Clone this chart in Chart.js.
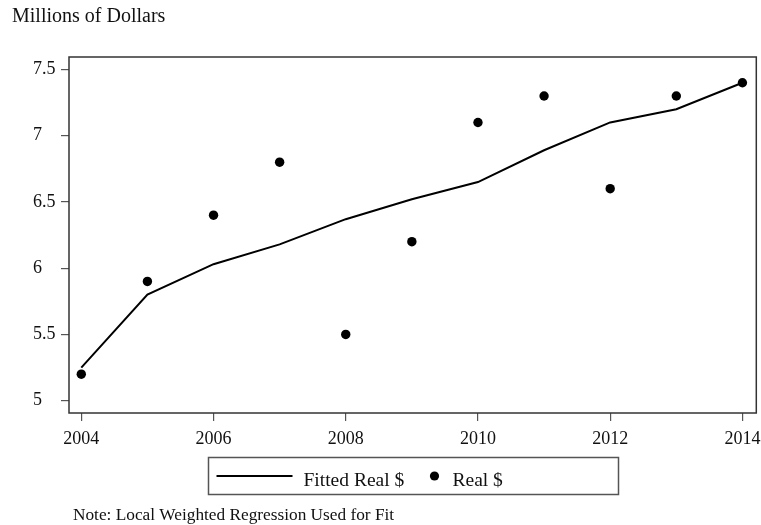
<!DOCTYPE html>
<html>
<head>
<meta charset="utf-8">
<script src="https://cdn.jsdelivr.net/npm/chart.js@4/dist/chart.umd.min.js"></script>
<style>
  html, body { margin: 0; padding: 0; background: #fff; }
  #wrap { width: 761px; height: 525px; position: relative; }
</style>
</head>
<body>
<div id="wrap"><canvas id="grafica"></canvas></div>
<script>
// datos
const years = [2004, 2005, 2006, 2007, 2008, 2009, 2010, 2011, 2012, 2013, 2014];
const fittedReal = [5.25, 5.80, 6.03, 6.18, 6.37, 6.52, 6.65, 6.89, 7.10, 7.20, 7.40];
const realDollars = [5.2, 5.9, 6.4, 6.8, 5.5, 6.2, 7.1, 7.3, 6.6, 7.3, 7.4];
const xTicks = [2004, 2006, 2008, 2010, 2012, 2014];
const yTicks = [5, 5.5, 6, 6.5, 7, 7.5];
const seriesNames = ['Fitted Real $', 'Real $'];
const yTitle = 'Millions of Dollars';
const note = 'Note: Local Weighted Regression Used for Fit';

const fuente = '"Liberation Serif", "Times New Roman", serif';

// marco, titulo, leyenda y nota
const extras = {
    id: 'extras',
    afterDraw(chart) {
        const ctx = chart.ctx;
        const a = chart.chartArea;
        ctx.save();

        // marco del area
        ctx.strokeStyle = '#333';
        ctx.lineWidth = 1.5;
        ctx.strokeRect(a.left, a.top, a.right - a.left, a.bottom - a.top);

        ctx.fillStyle = '#111';
        ctx.textBaseline = 'alphabetic';
        ctx.textAlign = 'left';
        ctx.font = '20px ' + fuente;
        ctx.fillText(yTitle, 12, 22);

        // leyenda
        const cx = (a.left + a.right) / 2;
        const boxW = 410, boxH = 37, boxTop = 457.5;
        const boxLeft = Math.round(cx - boxW / 2) + 0.5;
        ctx.strokeStyle = '#555';
        ctx.lineWidth = 1.5;
        ctx.strokeRect(boxLeft, boxTop, boxW, boxH);

        const midY = 476;
        ctx.strokeStyle = '#000';
        ctx.lineWidth = 2;
        ctx.beginPath();
        ctx.moveTo(boxLeft + 8, midY);
        ctx.lineTo(boxLeft + 84, midY);
        ctx.stroke();

        ctx.font = '19.5px ' + fuente;
        const ds = chart.data.datasets;
        ctx.fillText(ds[0].label, boxLeft + 95, 485.5);

        ctx.fillStyle = '#000';
        ctx.beginPath();
        ctx.arc(boxLeft + 226, midY, 4.6, 0, Math.PI * 2);
        ctx.fill();
        ctx.fillStyle = '#111';
        ctx.fillText(ds[1].label, boxLeft + 244, 485.5);

        // nota
        ctx.font = '17.3px ' + fuente;
        ctx.fillText(note, 73, 520);
        ctx.restore();
    }
};

const ctx = document.getElementById('grafica').getContext('2d');

new Chart(ctx, {
    data: {
        datasets: [{
            type: 'line',
            label: seriesNames[0],
            data: years.map((y, i) => ({ x: y, y: fittedReal[i] })),
            borderColor: '#000',
            borderWidth: 2,
            pointRadius: 0,
            tension: 0,
            fill: false
        }, {
            type: 'scatter',
            label: seriesNames[1],
            data: years.map((y, i) => ({ x: y, y: realDollars[i] })),
            backgroundColor: '#000',
            borderColor: '#000',
            pointRadius: 4.7,
            pointBorderWidth: 0
        }]
    },
    options: {
        responsive: true,
        maintainAspectRatio: false,
        animation: false,
        layout: { padding: { top: 57, right: 4, left: 33, bottom: 0 } },
        plugins: {
            legend: { display: false },
            tooltip: { enabled: false },
            title: { display: false }
        },
        scales: {
            x: {
                type: 'linear',
                min: 2003.814,
                max: 2014.21,
                afterBuildTicks: s => { s.ticks = xTicks.map(v => ({ value: v })); },
                afterFit: s => { s.height = 112; s.paddingLeft = 0; s.paddingRight = 0; },
                grid: { drawOnChartArea: false, drawTicks: true, tickLength: 8, color: '#555', lineWidth: 1.2 },
                border: { display: false },
                ticks: {
                    color: '#111',
                    font: { family: fuente, size: 18 },
                    padding: 7,
                    maxRotation: 0,
                    callback: v => String(v)
                }
            },
            y: {
                type: 'linear',
                min: 4.907,
                max: 7.594,
                afterBuildTicks: s => { s.ticks = yTicks.map(v => ({ value: v })); },
                afterFit: s => { s.width = 36; s.paddingTop = 0; s.paddingBottom = 0; },
                grid: { drawOnChartArea: false, drawTicks: true, tickLength: 8, color: '#555', lineWidth: 1.2 },
                border: { display: false },
                ticks: {
                    color: '#111',
                    font: { family: fuente, size: 18 },
                    crossAlign: 'far',
                    callback: v => String(v)
                }
            }
        }
    },
    plugins: [extras]
});
</script>
</body>
</html>
